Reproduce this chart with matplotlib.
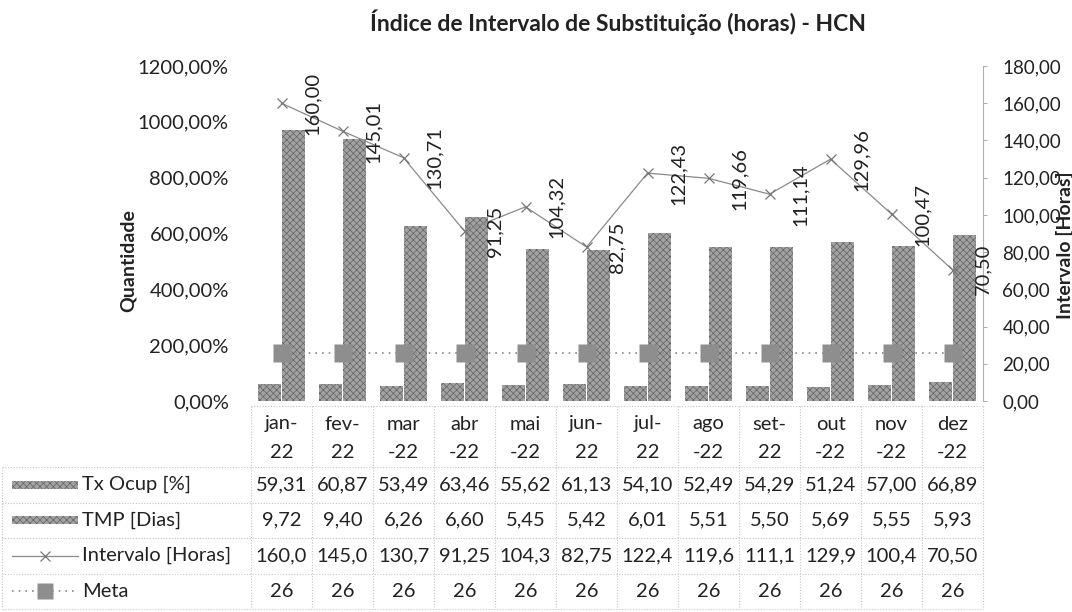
import matplotlib
matplotlib.use("Agg")
import matplotlib.pyplot as plt
import matplotlib.transforms as mtransforms
from matplotlib.patches import Rectangle
from matplotlib.ticker import FuncFormatter
import numpy as np

plt.rcParams['font.family'] = ['Lato', 'DejaVu Sans']
plt.rcParams['hatch.linewidth'] = 0.5

# dados do indicador
meses = ['jan-\n22', 'fev-\n22', 'mar\n-22', 'abr\n-22', 'mai\n-22', 'jun-\n22',
         'jul-\n22', 'ago\n-22', 'set-\n22', 'out\n-22', 'nov\n-22', 'dez\n-22']
tx_ocup = [59.31, 60.87, 53.49, 63.46, 55.62, 61.13, 54.10, 52.49, 54.29, 51.24, 57.00, 66.89]
tmp_dias = [9.72, 9.40, 6.26, 6.60, 5.45, 5.42, 6.01, 5.51, 5.50, 5.69, 5.55, 5.93]
intervalo = [160.00, 145.01, 130.71, 91.25, 104.32, 82.75, 122.43, 119.66, 111.14, 129.96, 100.47, 70.50]
meta = [26] * 12
series = ['Tx Ocup [%]', 'TMP [Dias]', 'Intervalo [Horas]', 'Meta']

W, H = 1072, 612
fig = plt.figure(figsize=(W / 100, H / 100), dpi=100)

def px(x0, y0, x1, y1):
    return [x0 / W, 1 - y1 / H, (x1 - x0) / W, (y1 - y0) / H]

cinza_barra = '#a2a2a2'
hatch_cor = '#646464'
cinza_linha = '#8a8a8a'
fs = 14.5

ax = fig.add_axes(px(251, 66, 983, 401))
x = np.arange(len(meses))
ax.bar(x - 0.2, tx_ocup, width=0.37, color=cinza_barra, edgecolor=hatch_cor,
       hatch='xxxxx', linewidth=0, zorder=2)
ax.bar(x + 0.2, np.array(tmp_dias) * 100, width=0.37, color=cinza_barra,
       edgecolor=hatch_cor, hatch='xxxxx', linewidth=0, zorder=2)
ax.set_xlim(-0.5, len(meses) - 0.5)
ax.set_ylim(0, 1200)
ax.set_yticks(np.arange(0, 1201, 200))
ax.yaxis.set_major_formatter(FuncFormatter(lambda v, p: f'{v:.2f}%'.replace('.', ',')))
ax.tick_params(axis='y', length=0, pad=16, labelsize=fs, labelcolor='#222')
ax.set_xticks([])
for s in ax.spines.values():
    s.set_visible(False)

ax2 = ax.twinx()
ax2.set_ylim(0, 180)
ax2.set_yticks(np.arange(0, 181, 20))
ax2.yaxis.set_major_formatter(FuncFormatter(lambda v, p: f'{v:.2f}'.replace('.', ',')))
ax2.tick_params(axis='y', length=3, width=0.6, color='#999', pad=11, labelsize=13.5,
                labelcolor='#222')
for k in ['left', 'top', 'bottom']:
    ax2.spines[k].set_visible(False)
ax2.spines['right'].set_color('#b0b0b0')
ax2.spines['right'].set_linewidth(0.8)

ax2.plot(x, meta, ls=(0, (1, 3)), color='#888', lw=1.2, marker='s', ms=13,
         mfc='#8e8e8e', mec='none', zorder=3)
ax2.plot(x, intervalo, color=cinza_linha, lw=0.9, marker='x', ms=7, mew=0.9,
         mec='#777', zorder=4)
for i, v in enumerate(intervalo):
    ax2.annotate(f'{v:.2f}'.replace('.', ','), (i, v), xytext=(22, 0),
                 textcoords='offset points', rotation=90, ha='center', va='center',
                 fontsize=fs, color='#222', zorder=5)

fig.text(618 / W, 1 - 22 / H, 'Índice de Intervalo de Substituição (horas) - HCN',
         ha='center', va='center', fontsize=16.5, fontweight='bold', color='#222')
fig.text(128 / W, 1 - 261 / H, 'Quantidade', rotation=90, ha='center', va='center',
         fontsize=14, fontweight='bold', color='#222')
fig.text(1065 / W, 1 - 245 / H, 'Intervalo [Horas]', rotation=90, ha='center',
         va='center', fontsize=14, fontweight='bold', color='#222')

# tabela de dados abaixo do gráfico
tab = fig.add_axes([0, 0, 1, 1], facecolor='none')
tab.set_xlim(0, W)
tab.set_ylim(H, 0)
tab.axis('off')
bt = mtransforms.blended_transform_factory(ax.transData, tab.transData)

grade = dict(color='#c4c4c4', lw=0.8, ls=(0, (1, 1.5)))
topo, cab, passo = 406, 467, 35.5
linhas_y = [cab + k * passo for k in range(5)]
tab.plot([-0.5, 11.5], [topo, topo], transform=bt, **grade)
for yl in linhas_y:
    tab.plot([2, 983], [yl, yl], **grade)
for k in range(13):
    tab.plot([k - 0.5, k - 0.5], [topo, linhas_y[-1]], transform=bt, **grade)
tab.plot([2, 2], [cab, linhas_y[-1]], **grade)

for i, m in enumerate(meses):
    l1, l2 = m.split('\n')
    tab.text(i, 424, l1, transform=bt, ha='center', va='center', fontsize=fs, color='#222')
    tab.text(i, 452, l2, transform=bt, ha='center', va='center', fontsize=fs, color='#222')

valores = [
    [f'{v:.2f}'.replace('.', ',') for v in tx_ocup],
    [f'{v:.2f}'.replace('.', ',') for v in tmp_dias],
    [f'{v:.2f}'.replace('.', ',')[:5] for v in intervalo],
    [str(v) for v in meta],
]
for r, (nome, vals) in enumerate(zip(series, valores)):
    yc = cab + (r + 0.5) * passo
    tab.text(82, yc, nome, ha='left', va='center', fontsize=fs, color='#222')
    for i, t in enumerate(vals):
        tab.text(i, yc, t, transform=bt, ha='center', va='center', fontsize=fs, color='#222')

# chaves da legenda
for r in range(2):
    yc = cab + (r + 0.5) * passo
    tab.add_patch(Rectangle((12, yc - 4), 66, 8, facecolor=cinza_barra,
                            edgecolor=hatch_cor, hatch='xxxxx', linewidth=0))
yc = cab + 2.5 * passo
tab.plot([12, 78], [yc, yc], color=cinza_linha, lw=0.9)
tab.plot([45], [yc], marker='x', ms=7, mew=0.9, color='#777')
yc = cab + 3.5 * passo
tab.plot([12, 78], [yc, yc], ls=(0, (1, 3)), color='#888', lw=1.2)
tab.plot([45], [yc], marker='s', ms=11, mfc='#8e8e8e', mec='none')

fig.savefig('out.png', dpi=100)
